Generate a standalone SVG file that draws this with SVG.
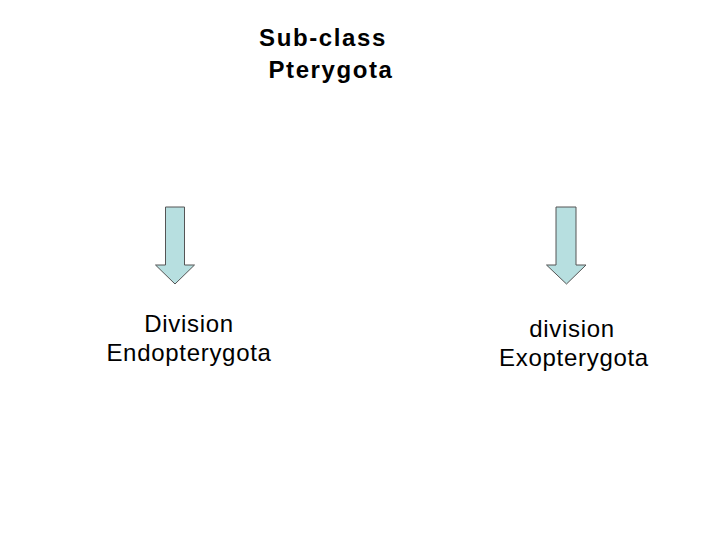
<svg xmlns="http://www.w3.org/2000/svg" width="720" height="540" viewBox="0 0 720 540">
<style>
.t{font-family:"Liberation Sans",Arial,sans-serif;fill:#000;text-anchor:middle}
.b{font-weight:bold;font-size:24px;letter-spacing:1.6px}
.r{font-size:24px;letter-spacing:0.7px}
.arr{fill:#b7dfe0;stroke:#555;stroke-width:1}
</style>
<rect width="720" height="540" fill="#fff"/>
<g id="title">
<text class="t b" x="323" y="46">Sub-class</text>
<text class="t b" x="331" y="78">Pterygota</text>
</g>
<g id="connectors">
<path class="arr" d="M165.5,207 H184.5 V265 H194.5 L175,284 L155.5,265 H165.5 Z"/>
<path class="arr" d="M556,207 H576 V265 H586 L566.5,284 L546.5,265 H556 Z"/>
</g>
<g id="endo">
<text class="t r" x="189" y="332">Division</text>
<text class="t r" x="189" y="361">Endopterygota</text>
</g>
<g id="exo">
<text class="t r" x="572" y="337">division</text>
<text class="t r" x="574" y="366">Exopterygota</text>
</g>
</svg>
